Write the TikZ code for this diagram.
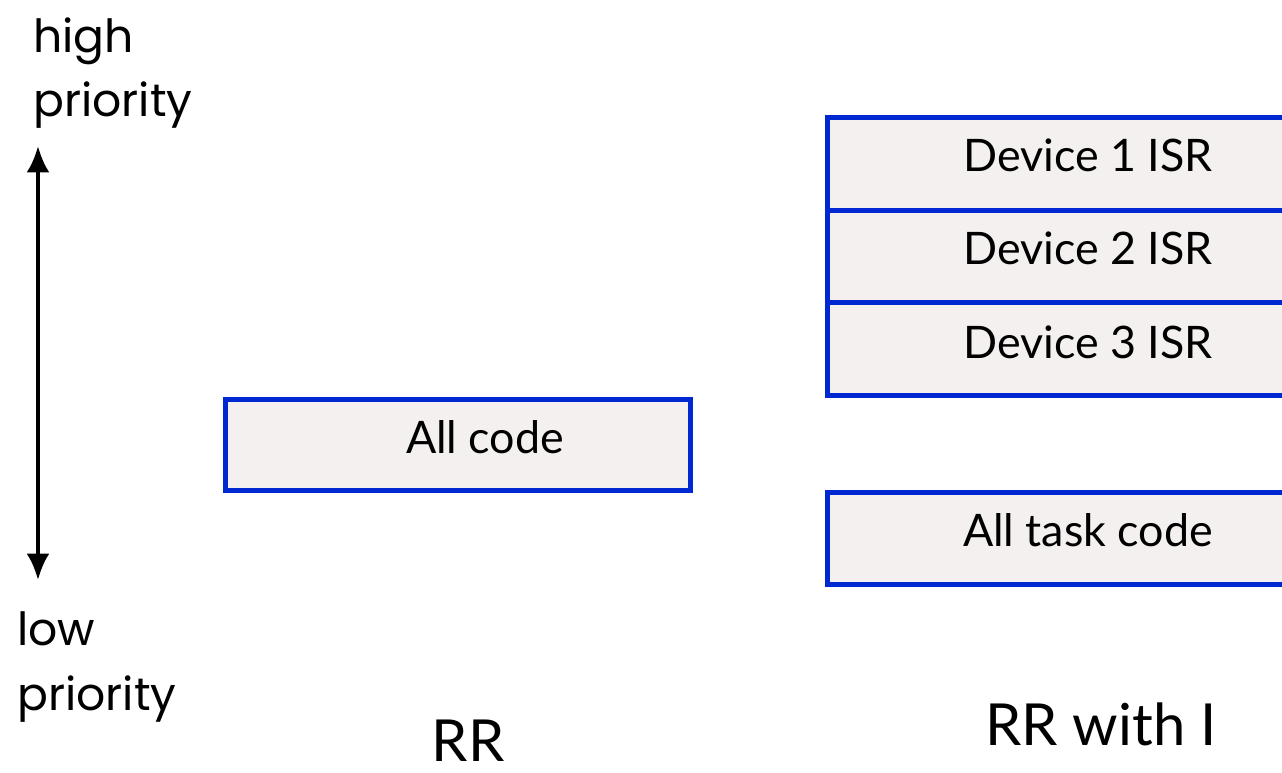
\documentclass[tikz,border=0pt]{standalone}
\usepackage{fontspec}
\setmainfont{Lato}
\newfontfamily\sidefont{Poppins}
\usetikzlibrary{arrows.meta}

\definecolor{isrblue}{RGB}{0,40,210}
\definecolor{isrfill}{RGB}{243,240,239}

\tikzset{
  blk/.style={draw=isrblue, fill=isrfill, line width=3pt, inner sep=0pt, outer sep=0pt, anchor=north west},
  lbl/.style={inner sep=0pt, font=\fontsize{25.5}{30}\selectfont},
  side/.style={inner sep=0pt, anchor=base west, font=\sidefont\fontsize{26}{30}\selectfont},
  ttl/.style={inner sep=0pt, anchor=base, font=\fontsize{33}{38}\selectfont},
}

\begin{document}
\begin{tikzpicture}[x=0.02cm, y=-0.02cm]
  \clip (0,0) rectangle (1282,772);

  % priority scale
  \node[side] (high) at (33,52) {high};
  \node[side] (highp) at (33,116) {priority};
  \node[side] (low) at (17,645) {low};
  \node[side] (lowp) at (17,710) {priority};
  \coordinate (top) at (38,146);
  \coordinate (bot) at (38,580);
  \draw [line width=2.3pt, {Latex[length=15pt,width=13pt]}-{Latex[length=15pt,width=13pt]}] (top) -- (bot);

  % RR: one box
  \node[blk, minimum width=9.3cm, minimum height=1.82cm] (allcode) at (225.5,399.5) {};
  \node[lbl] (allcodet) at (485,437) {All code};
  \node[ttl] (rr) at (468,761) {RR};

  % RR with interrupts: ISRs stacked above the task code
  \node[blk, minimum width=10cm, minimum height=1.853cm] (dev1) at (827.5,117.5) {};
  \node[blk, minimum width=10cm, minimum height=1.853cm] (dev2) at (dev1.south west) {};
  \node[blk, minimum width=10cm, minimum height=1.853cm] (dev3) at (dev2.south west) {};
  \node[lbl] (dev1t) at (1088,155) {Device 1 ISR};
  \node[lbl] (dev2t) at (1088,248) {Device 2 ISR};
  \node[lbl] (dev3t) at (1088,342) {Device 3 ISR};
  \node[blk, minimum width=10cm, minimum height=1.84cm] (task) at (827.5,492.5) {};
  \node[lbl] (taskt) at (1088,530) {All task code};
  \node[ttl] (rri) at (1101,745) {RR with I};
\end{tikzpicture}
\end{document}
